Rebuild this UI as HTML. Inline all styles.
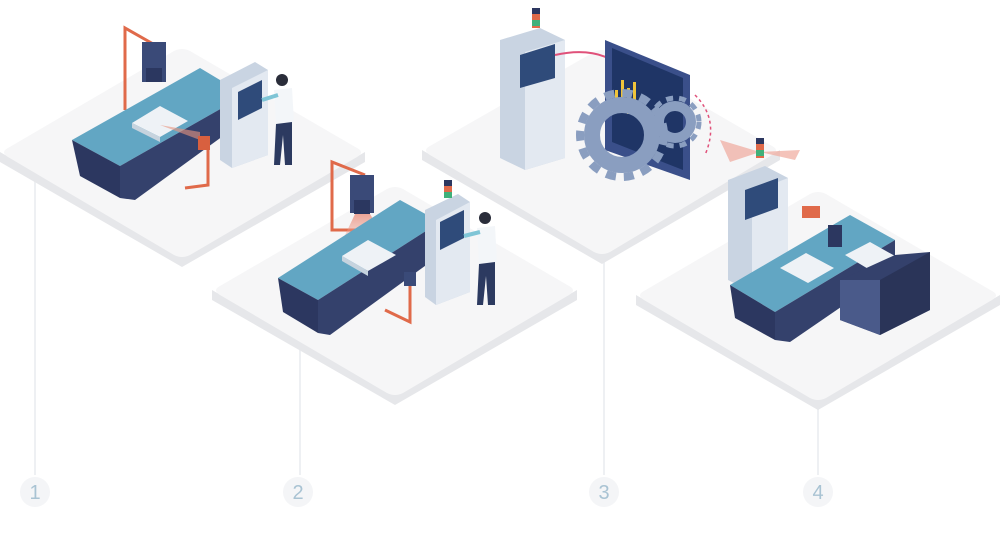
<!DOCTYPE html>
<html><head><meta charset="utf-8"><style>
html,body{margin:0;padding:0;background:#fff;}
svg{display:block;}
text{font-family:"Liberation Sans",sans-serif;}
</style></head><body>
<svg width="1000" height="540" viewBox="0 0 1000 540">
<defs>
<linearGradient id="beam" x1="0" y1="0" x2="0" y2="1"><stop offset="0" stop-color="#e8826e" stop-opacity="0.7"/><stop offset="1" stop-color="#f2b3a6" stop-opacity="0.2"/></linearGradient>
</defs>
<!-- guide lines -->
<g stroke="#eef0f3" stroke-width="2">
<line x1="35" y1="165" x2="35" y2="475"/>
<line x1="300" y1="350" x2="300" y2="475"/>
<line x1="604" y1="262" x2="604" y2="475"/>
<line x1="818" y1="405" x2="818" y2="475"/>
</g>
<!-- platforms -->
<g>
<path d="M0,162 L182,267 L365,162 L365,152 L182,257 L0,152Z" fill="#e6e7ea"/>
<path d="M8,148 Q0,152 8,157 L174,255 Q182,259 190,255 L357,157 Q365,152 357,148 L190,51 Q182,47 174,51Z" fill="#f6f6f7"/>
<path d="M212,300 L395,405 L577,300 L577,290 L395,395 L212,290Z" fill="#e6e7ea"/>
<path d="M220,286 Q212,290 220,295 L387,393 Q395,397 403,393 L569,295 Q577,290 569,286 L403,189 Q395,185 387,189Z" fill="#f6f6f7"/>
<path d="M422,160 L602,264 L780,160 L780,150 L602,254 L422,150Z" fill="#e6e7ea"/>
<path d="M430,146 Q422,150 430,155 L594,252 Q602,256 610,252 L772,155 Q780,150 772,146 L610,52 Q602,48 594,52Z" fill="#f6f6f7"/>
<path d="M636,305 L818,410 L1000,305 L1000,295 L818,400 L636,295Z" fill="#e6e7ea"/>
<path d="M644,291 Q636,295 644,300 L810,398 Q818,402 826,398 L992,300 Q1000,295 992,291 L826,194 Q818,190 810,194Z" fill="#f6f6f7"/>
</g>
<!-- numbers -->
<g font-size="20" fill="#a9c3d3" text-anchor="middle">
<circle cx="35" cy="492" r="15" fill="#f4f5f7"/><text x="35" y="499">1</text>
<circle cx="298" cy="492" r="15" fill="#f4f5f7"/><text x="298" y="499">2</text>
<circle cx="604" cy="492" r="15" fill="#f4f5f7"/><text x="604" y="499">3</text>
<circle cx="818" cy="492" r="15" fill="#f4f5f7"/><text x="818" y="499">4</text>
</g>

<!-- STATION 1 -->
<g>
<polyline points="125,110 125,28 155,45" fill="none" stroke="#e06a4a" stroke-width="3"/>
<rect x="142" y="42" width="24" height="40" fill="#3a4a78"/><rect x="146" y="68" width="16" height="14" fill="#2b3760"/>
<path d="M72,140 L200,68 L245,95 L120,166Z" fill="#62a6c3"/>
<path d="M72,140 L120,166 L120,198 L80,176Z" fill="#2c3760"/>
<path d="M120,166 L245,95 L245,120 L135,200 L120,198Z" fill="#34416c"/>
<path d="M132,123 L160,106 L188,121 L160,137Z" fill="#eef2f6"/><path d="M132,123 L160,137 L160,142 L132,128Z" fill="#c6d3de"/>
<path d="M160,125 L200,140 L200,132Z" fill="#e9957f" opacity="0.6"/>
<polyline points="200,140 208,145 208,185 185,188" fill="none" stroke="#e06a4a" stroke-width="3"/>
<rect x="198" y="136" width="12" height="14" fill="#d8603f"/>
<path d="M220,80 L255,62 L268,70 L268,155 L232,168 L220,160Z" fill="#c9d4e2"/><path d="M232,168 L268,155 L268,70 L232,88Z" fill="#e3e9f1"/>
<path d="M238,92 L262,80 L262,108 L238,120Z" fill="#2f4b7a"/>
<circle cx="282" cy="80" r="6" fill="#2a2d3a"/><path d="M274,90 L292,88 L294,122 L276,124Z" fill="#f3f6f9"/><path d="M276,124 L292,122 L292,165 L285,165 L283,135 L280,165 L274,165Z" fill="#2c3a60"/>
<path d="M262,100 L278,95" stroke="#7fc5d6" stroke-width="4"/>
</g>

<!-- STATION 2 -->
<g>
<polyline points="360,230 332,230 332,162 365,175" fill="none" stroke="#e06a4a" stroke-width="3"/>
<rect x="350" y="175" width="24" height="38" fill="#3a4a78"/><rect x="354" y="200" width="16" height="14" fill="#2b3760"/>
<path d="M355,214 L370,214 L392,250 L338,250Z" fill="url(#beam)"/>
<path d="M278,278 L400,200 L440,222 L318,300Z" fill="#62a6c3"/>
<path d="M278,278 L318,300 L318,333 L283,312Z" fill="#2c3760"/>
<path d="M318,300 L440,222 L440,255 L330,335 L318,333Z" fill="#34416c"/>
<path d="M342,256 L368,240 L396,255 L368,271Z" fill="#eef2f6"/><path d="M342,256 L368,271 L368,276 L342,261Z" fill="#c6d3de"/>
<polyline points="410,280 410,322 385,310" fill="none" stroke="#e06a4a" stroke-width="3"/>
<rect x="404" y="272" width="12" height="14" fill="#3a4a78"/>
<path d="M425,210 L458,194 L470,202 L470,292 L436,305 L425,297Z" fill="#c9d4e2"/><path d="M436,305 L470,292 L470,202 L436,220Z" fill="#e3e9f1"/>
<path d="M440,222 L464,210 L464,238 L440,250Z" fill="#2f4b7a"/>
<rect x="444" y="180" width="8" height="18" fill="#e06a4a"/><rect x="444" y="180" width="8" height="6" fill="#2c3760"/><rect x="444" y="192" width="8" height="6" fill="#3fb07a"/>
<circle cx="485" cy="218" r="6" fill="#2a2d3a"/><path d="M477,228 L495,226 L497,262 L479,264Z" fill="#f3f6f9"/><path d="M479,264 L495,262 L495,305 L488,305 L486,276 L483,305 L477,305Z" fill="#2c3a60"/>
<path d="M464,236 L480,232" stroke="#7fc5d6" stroke-width="4"/>
</g>

<!-- STATION 3 -->
<g>
<rect x="532" y="8" width="8" height="20" fill="#e06a4a"/><rect x="532" y="8" width="8" height="6" fill="#2c3760"/><rect x="532" y="20" width="8" height="6" fill="#3fb07a"/>
<path d="M500,40 L540,28 L565,40 L565,158 L525,170 L500,158Z" fill="#c9d4e2"/><path d="M525,170 L565,158 L565,40 L525,52Z" fill="#e3e9f1"/>
<path d="M520,55 L555,44 L555,78 L520,88Z" fill="#2f4b7a"/>
<path d="M555,55 Q600,45 625,70" fill="none" stroke="#e0517a" stroke-width="2"/>
<path d="M605,40 L690,75 L690,180 L605,150Z" fill="#3a4f8a"/><path d="M612,48 L683,78 L683,170 L612,142Z" fill="#1f3566"/>
<g fill="#f0c43a"><rect x="615" y="90" width="3" height="22"/><rect x="621" y="80" width="3" height="32"/><rect x="627" y="88" width="3" height="26"/><rect x="633" y="82" width="3" height="30"/></g>
<g fill="none" stroke="#8a9ec0">
<circle cx="622" cy="135" r="30" stroke-width="16"/>
<circle cx="622" cy="135" r="42" stroke-width="8" stroke-dasharray="10 8"/>
<circle cx="675" cy="122" r="16" stroke-width="10"/>
<circle cx="675" cy="122" r="24" stroke-width="5" stroke-dasharray="7 6"/>
</g>
<path d="M695,95 Q720,120 705,155" fill="none" stroke="#e0517a" stroke-width="1.5" stroke-dasharray="3 3"/>
</g>

<!-- STATION 4 -->
<g>
<path d="M720,140 L760,152 L730,162Z M800,150 L760,152 L795,160Z" fill="#f0a99c" opacity="0.7"/>
<rect x="756" y="138" width="8" height="20" fill="#e06a4a"/><rect x="756" y="138" width="8" height="6" fill="#2c3760"/><rect x="756" y="150" width="8" height="6" fill="#3fb07a"/>
<path d="M728,180 L765,166 L788,178 L788,280 L752,292 L728,280Z" fill="#c9d4e2"/><path d="M752,292 L788,280 L788,178 L752,192Z" fill="#e3e9f1"/>
<path d="M745,190 L778,178 L778,208 L745,220Z" fill="#2f4b7a"/>
<path d="M730,285 L850,215 L895,240 L775,312Z" fill="#62a6c3"/>
<path d="M730,285 L775,312 L775,340 L735,318Z" fill="#2c3760"/>
<path d="M775,312 L895,240 L895,270 L790,342 L775,340Z" fill="#34416c"/>
<path d="M780,268 L806,253 L834,268 L808,283Z" fill="#eef2f6"/>
<path d="M845,255 L870,242 L895,256 L870,270Z" fill="#eef2f6"/>
<rect x="802" y="206" width="18" height="12" fill="#e06a4a"/>
<rect x="828" y="225" width="14" height="22" fill="#2c3760"/>
<path d="M840,280 L895,255 L930,252 L930,310 L880,335 L840,320Z" fill="#34416c"/><path d="M880,335 L930,310 L930,252 L880,280Z" fill="#2a3458"/><path d="M840,280 L880,280 L880,335 L840,320Z" fill="#4a5a8a"/>
</g>
</svg>
</body></html>
